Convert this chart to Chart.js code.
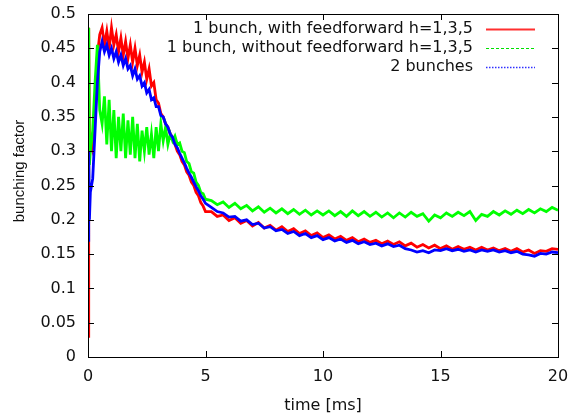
<!DOCTYPE html>
<html>
<head>
<meta charset="utf-8">
<script src="https://cdn.jsdelivr.net/npm/chart.js@4"></script>
<style>
  html, body { margin: 0; padding: 0; background: #fff; }
  #wrap { width: 571px; height: 415px; }
</style>
</head>
<body>
<div id="wrap"><canvas id="chart" width="571" height="415"></canvas></div>
<script>
// time axis in ms (shared by all three curves)
const timeMs = [
  0, 0.03, 0.06,
  0.1, 0.2, 0.3, 0.4, 0.5, 0.6, 0.7, 0.8, 0.9, 1.0,
  1.1, 1.2, 1.3, 1.4, 1.5, 1.6, 1.7, 1.8, 1.9, 2.0,
  2.1, 2.2, 2.3, 2.4, 2.5, 2.6, 2.7, 2.8, 2.9, 3.0,
  3.1, 3.2, 3.3, 3.4, 3.5, 3.6, 3.7, 3.8, 3.9, 4.0,
  4.1, 4.2, 4.3, 4.4, 4.5, 4.6, 4.7, 4.8, 4.9, 5.0,
  5.25, 5.5, 5.75, 6.0, 6.25, 6.5, 6.75, 7.0, 7.25, 7.5, 7.75, 8.0,
  8.25, 8.5, 8.75, 9.0, 9.25, 9.5, 9.75, 10.0, 10.25, 10.5, 10.75, 11.0,
  11.25, 11.5, 11.75, 12.0, 12.25, 12.5, 12.75, 13.0, 13.25, 13.5, 13.75, 14.0,
  14.25, 14.5, 14.75, 15.0, 15.25, 15.5, 15.75, 16.0, 16.25, 16.5, 16.75, 17.0,
  17.25, 17.5, 17.75, 18.0, 18.25, 18.5, 18.75, 19.0, 19.25, 19.5, 19.75, 20.0
];

// 1 bunch, with feedforward h=1,3,5
const withFeedforward = [
  0.03, 0.48, 0.30,
  0.31, 0.30, 0.36, 0.44, 0.47, 0.48, 0.455, 0.475, 0.45, 0.48,
  0.455, 0.47, 0.445, 0.465, 0.44, 0.46, 0.435, 0.455, 0.43, 0.45,
  0.425, 0.44, 0.415, 0.43, 0.405, 0.42, 0.395, 0.40, 0.375, 0.37,
  0.355, 0.35, 0.34, 0.335, 0.325, 0.32, 0.31, 0.30, 0.295, 0.285,
  0.28, 0.27, 0.265, 0.255, 0.25, 0.24, 0.235, 0.225, 0.22, 0.212,
  0.212, 0.205, 0.207, 0.199, 0.203, 0.195, 0.199, 0.191, 0.196, 0.188, 0.192, 0.185,
  0.19, 0.183, 0.187, 0.18, 0.184, 0.177, 0.181, 0.174, 0.178, 0.172, 0.176, 0.17,
  0.174, 0.168, 0.172, 0.167, 0.17, 0.165, 0.169, 0.164, 0.168, 0.162, 0.166, 0.16,
  0.164, 0.159, 0.163, 0.158, 0.162, 0.157, 0.161, 0.157, 0.16, 0.156, 0.16, 0.156,
  0.159, 0.155, 0.158, 0.154, 0.158, 0.153, 0.156, 0.151, 0.155, 0.154, 0.158, 0.157
];

// 1 bunch, without feedforward h=1,3,5
const withoutFeedforward = [
  0.20, 0.48, 0.28,
  0.30, 0.33, 0.40, 0.455, 0.36, 0.34, 0.38, 0.31, 0.375, 0.30,
  0.36, 0.29, 0.35, 0.30, 0.355, 0.29, 0.345, 0.295, 0.35, 0.29,
  0.34, 0.285, 0.33, 0.30, 0.335, 0.295, 0.325, 0.29, 0.335, 0.30,
  0.34, 0.315, 0.335, 0.31, 0.325, 0.315, 0.322, 0.31, 0.312, 0.30,
  0.298, 0.285, 0.282, 0.27, 0.268, 0.255, 0.25, 0.24, 0.238, 0.23,
  0.228, 0.222, 0.226, 0.218, 0.224, 0.216, 0.221, 0.213, 0.219, 0.211, 0.217, 0.21,
  0.216, 0.209, 0.215, 0.208, 0.214, 0.207, 0.213, 0.207, 0.213, 0.206, 0.212, 0.205,
  0.213, 0.206, 0.212, 0.205, 0.211, 0.204, 0.21, 0.203, 0.21, 0.204, 0.211, 0.205,
  0.209, 0.198, 0.207, 0.203, 0.21, 0.205, 0.211, 0.206, 0.212, 0.199, 0.208, 0.205,
  0.212, 0.207, 0.213, 0.208, 0.214, 0.209, 0.215, 0.21, 0.216, 0.212, 0.218, 0.214
];

// 2 bunches
const twoBunches = [
  0.17, 0.30, 0.20,
  0.24, 0.26, 0.33, 0.40, 0.445, 0.46, 0.445, 0.455, 0.44, 0.45,
  0.435, 0.445, 0.43, 0.44, 0.425, 0.435, 0.42, 0.425, 0.41, 0.42,
  0.405, 0.41, 0.395, 0.40, 0.385, 0.39, 0.375, 0.378, 0.365, 0.365,
  0.352, 0.35, 0.34, 0.335, 0.325, 0.32, 0.31, 0.305, 0.297, 0.29,
  0.283, 0.275, 0.268, 0.262, 0.255, 0.248, 0.242, 0.235, 0.23, 0.224,
  0.218, 0.212, 0.21, 0.204, 0.205, 0.198, 0.2, 0.193, 0.195, 0.188, 0.19, 0.184,
  0.186, 0.18, 0.183, 0.177, 0.18, 0.174, 0.177, 0.171, 0.174, 0.169, 0.172, 0.167,
  0.17, 0.165, 0.168, 0.164, 0.166, 0.162, 0.165, 0.161, 0.163, 0.158, 0.156, 0.153,
  0.155, 0.152, 0.156, 0.155, 0.158, 0.155, 0.157, 0.154, 0.156, 0.153, 0.156, 0.154,
  0.156, 0.153, 0.155, 0.152, 0.154, 0.15, 0.149, 0.147, 0.151, 0.15, 0.153, 0.152
];

const seriesLabels = [
  '1 bunch, with feedforward h=1,3,5',
  '1 bunch, without feedforward h=1,3,5',
  '2 bunches'
];
const xTicks = [0, 5, 10, 15, 20];
const yTicks = [0, 0.05, 0.1, 0.15, 0.2, 0.25, 0.3, 0.35, 0.4, 0.45, 0.5];

const FONT = '"DejaVu Sans", sans-serif';
const toPoints = vals => vals.map((v, i) => ({ x: timeMs[i], y: v }));

// gnuplot style: frame with inward ticks on all four sides, ylabel and key
const frameAndKey = {
  id: 'frameAndKey',
  afterDraw(chart) {
    const { ctx, chartArea: a, scales: { x, y } } = chart;
    ctx.save();
    ctx.strokeStyle = '#000';
    ctx.lineWidth = 1;
    ctx.strokeRect(Math.round(a.left) + 0.5, Math.round(a.top) + 0.5,
      Math.round(a.right - a.left), Math.round(a.bottom - a.top));
    ctx.beginPath();
    xTicks.forEach(t => {
      const px = Math.round(x.getPixelForValue(t)) + 0.5;
      ctx.moveTo(px, a.bottom); ctx.lineTo(px, a.bottom - 6);
      ctx.moveTo(px, a.top); ctx.lineTo(px, a.top + 6);
    });
    yTicks.forEach(t => {
      const py = Math.round(y.getPixelForValue(t)) + 0.5;
      ctx.moveTo(a.left, py); ctx.lineTo(a.left + 6, py);
      ctx.moveTo(a.right, py); ctx.lineTo(a.right - 6, py);
    });
    ctx.stroke();

    // y axis label
    ctx.fillStyle = '#111';
    ctx.save();
    ctx.translate(20, 171);
    ctx.rotate(-Math.PI / 2);
    ctx.font = '15px "Liberation Sans", Arial, sans-serif';
    ctx.textAlign = 'center';
    ctx.textBaseline = 'middle';
    ctx.fillText('bunching factor', 0, 0);
    ctx.restore();

    // key
    ctx.font = '16px ' + FONT;
    ctx.textAlign = 'right';
    ctx.textBaseline = 'middle';
    const rows = [29, 48, 67];
    const styles = [
      { c: '#ff3030', w: 2, d: [] },
      { c: '#00e000', w: 1, d: [3, 2] },
      { c: '#3030ff', w: 1.5, d: [1.5, 1.5] }
    ];
    seriesLabels.forEach((lab, i) => {
      ctx.fillText(lab, 473, rows[i]);
      ctx.beginPath();
      ctx.strokeStyle = styles[i].c;
      ctx.lineWidth = styles[i].w;
      ctx.setLineDash(styles[i].d);
      ctx.moveTo(486, rows[i] + 0.5);
      ctx.lineTo(535, rows[i] + 0.5);
      ctx.stroke();
    });
    ctx.restore();
  }
};

new Chart(document.getElementById('chart'), {
  type: 'line',
  data: {
    datasets: [
      {
        label: seriesLabels[0],
        data: toPoints(withFeedforward),
        borderColor: '#ff0000',
        borderWidth: 2.8,
        order: 3
      },
      {
        label: seriesLabels[1],
        data: toPoints(withoutFeedforward),
        borderColor: '#00ff00',
        borderWidth: 2.8,
        order: 2
      },
      {
        label: seriesLabels[2],
        data: toPoints(twoBunches),
        borderColor: '#0000ff',
        borderWidth: 2.8,
        order: 1
      }
    ]
  },
  options: {
    responsive: false,
    animation: false,
    elements: { point: { radius: 0 }, line: { tension: 0 } },
    layout: { padding: { top: 14, right: 13, left: 0, bottom: 0 } },
    plugins: { legend: { display: false }, tooltip: { enabled: false } },
    scales: {
      x: {
        type: 'linear',
        min: 0,
        max: 20,
        afterFit: s => { s.height = 58; s.paddingLeft = 0; s.paddingRight = 0; },
        afterBuildTicks: s => { s.ticks = xTicks.map(v => ({ value: v })); },
        grid: { display: false, drawTicks: false },
        border: { display: false },
        ticks: { color: '#111', padding: 10, font: { family: FONT, size: 16 } },
        title: {
          display: true,
          text: 'time [ms]',
          color: '#111',
          font: { family: FONT, size: 16 },
          padding: { top: 4, bottom: 0 }
        }
      },
      y: {
        min: 0,
        max: 0.5,
        afterFit: s => { s.width = 88; s.paddingTop = 0; s.paddingBottom = 0; },
        afterBuildTicks: s => { s.ticks = yTicks.map(v => ({ value: v })); },
        grid: { display: false, drawTicks: false },
        border: { display: false },
        ticks: {
          color: '#111',
          padding: 12,
          font: { family: FONT, size: 16 },
          callback: v => String(Number(v.toFixed(2)))
        }
      }
    }
  },
  plugins: [frameAndKey]
});
</script>
</body>
</html>
